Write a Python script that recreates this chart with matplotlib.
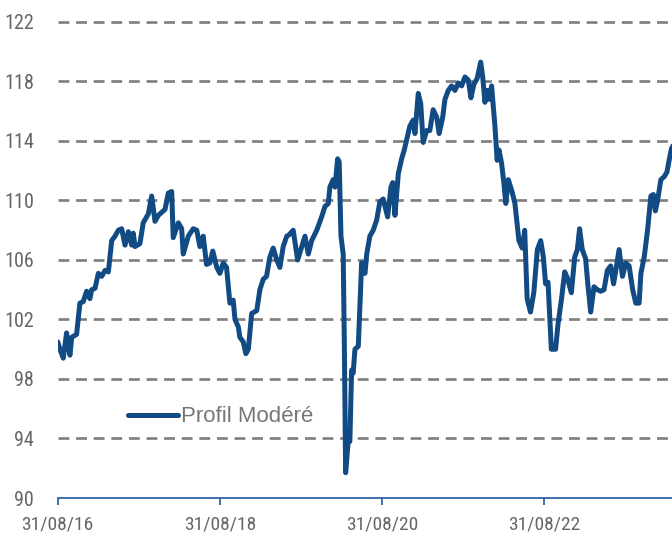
import matplotlib
matplotlib.use("Agg")
import matplotlib.pyplot as plt
import matplotlib.dates as mdates
import pandas as pd

dates = [
    "2016-08-31", "2016-09-10", "2016-09-25", "2016-10-10", "2016-10-25", "2016-11-02",
    "2016-11-24", "2016-12-09", "2016-12-24", "2017-01-08", "2017-01-23", "2017-01-31",
    "2017-02-15", "2017-03-02", "2017-03-17", "2017-04-01", "2017-04-16", "2017-04-23",
    "2017-05-01", "2017-05-16", "2017-05-31", "2017-06-15", "2017-06-30", "2017-07-15",
    "2017-07-30", "2017-08-06", "2017-08-14", "2017-09-05", "2017-09-20", "2017-10-13",
    "2017-10-28", "2017-11-12", "2017-11-27", "2017-12-27", "2018-01-11", "2018-01-26",
    "2018-02-02", "2018-02-25", "2018-03-12", "2018-03-19", "2018-04-11", "2018-05-03",
    "2018-05-19", "2018-06-02", "2018-06-17", "2018-07-02", "2018-07-17", "2018-07-30",
    "2018-08-17", "2018-08-31", "2018-09-15", "2018-09-30", "2018-10-15", "2018-10-30",
    "2018-11-07", "2018-11-22", "2018-11-29", "2018-12-14", "2018-12-26", "2019-01-06",
    "2019-01-21", "2019-02-13", "2019-02-27", "2019-03-14", "2019-03-29", "2019-04-13",
    "2019-04-28", "2019-05-14", "2019-05-28", "2019-06-12", "2019-06-28", "2019-07-09",
    "2019-07-27", "2019-08-16", "2019-09-18", "2019-10-03", "2019-10-18", "2019-11-10",
    "2019-12-02", "2019-12-17", "2020-01-01", "2020-01-08", "2020-01-23", "2020-01-31",
    "2020-02-12", "2020-02-19", "2020-02-27", "2020-03-08", "2020-03-13", "2020-03-19",
    "2020-03-31", "2020-04-07", "2020-04-15", "2020-04-22", "2020-04-30", "2020-05-15",
    "2020-05-30", "2020-06-14", "2020-06-22", "2020-07-06", "2020-07-21", "2020-08-06",
    "2020-08-20", "2020-09-04", "2020-09-24", "2020-10-09", "2020-10-17", "2020-10-27",
    "2020-11-11", "2020-11-26", "2020-12-08", "2020-12-19", "2021-01-02", "2021-01-17",
    "2021-01-25", "2021-02-09", "2021-02-20", "2021-03-03", "2021-03-19", "2021-04-02",
    "2021-04-17", "2021-05-03", "2021-05-14", "2021-05-30", "2021-06-09", "2021-06-24",
    "2021-07-09", "2021-07-24", "2021-08-08", "2021-08-23", "2021-09-07", "2021-09-22",
    "2021-10-04", "2021-10-17", "2021-11-01", "2021-11-17", "2021-11-26", "2021-12-06",
    "2021-12-16", "2021-12-25", "2022-01-05", "2022-01-20", "2022-01-30", "2022-02-07",
    "2022-02-19", "2022-03-01", "2022-03-10", "2022-03-21", "2022-04-05", "2022-04-20",
    "2022-05-08", "2022-05-23", "2022-06-03", "2022-06-14", "2022-06-29", "2022-07-14",
    "2022-07-30", "2022-08-14", "2022-08-26", "2022-09-05", "2022-09-16", "2022-10-01",
    "2022-10-20", "2022-10-31", "2022-11-15", "2022-11-30", "2022-12-12", "2022-12-30",
    "2023-01-14", "2023-01-26", "2023-02-05", "2023-02-17", "2023-03-04", "2023-03-14",
    "2023-03-27", "2023-04-11", "2023-04-26", "2023-05-11", "2023-05-26", "2023-06-10",
    "2023-06-25", "2023-07-08", "2023-07-18", "2023-08-02", "2023-08-17", "2023-09-01",
    "2023-09-16", "2023-10-02", "2023-10-16", "2023-10-31", "2023-11-08", "2023-11-23",
    "2023-12-08", "2023-12-23", "2024-01-03", "2024-01-12", "2024-01-22", "2024-02-06",
    "2024-02-21", "2024-03-04", "2024-03-14", "2024-03-25", "2024-04-05",
]

profil_modere = [
    100.5, 100.0, 99.4, 101.1, 99.6, 100.8,
    101.0, 103.1, 103.2, 103.9, 103.4, 104.0,
    104.1, 105.1, 104.9, 105.3, 105.2, 106.2,
    107.3, 107.6, 108.0, 108.1, 107.0, 107.9,
    107.0, 107.8, 106.9, 107.1, 108.5, 109.1,
    110.3, 108.6, 109.0, 109.4, 110.5, 110.6,
    107.5, 108.5, 108.1, 106.4, 107.6, 108.1,
    108.0, 106.9, 107.6, 105.7, 105.8, 106.6,
    105.5, 105.1, 105.8, 105.5, 103.1, 103.3,
    102.0, 101.5, 100.8, 100.5, 99.7, 100.0,
    102.4, 102.6, 104.0, 104.7, 104.9, 106.2,
    106.8, 106.0, 105.5, 106.9, 107.6, 107.7,
    108.0, 106.0, 107.6, 106.4, 107.3, 108.0,
    108.9, 109.6, 109.8, 110.9, 111.4, 110.9,
    112.8, 112.6, 107.6, 106.4, 100.6, 91.7,
    93.9, 93.8, 98.6, 98.4, 100.0, 100.2,
    105.8, 105.1, 106.4, 107.6, 108.0, 108.7,
    109.9, 110.1, 108.9, 110.9, 111.2, 109.0,
    111.8, 112.8, 113.4, 114.1, 115.0, 115.4,
    114.5, 117.2, 116.5, 113.9, 114.7, 114.7,
    116.1, 115.6, 114.5, 115.6, 116.8, 117.4,
    117.7, 117.4, 117.9, 117.7, 118.3, 118.1,
    116.9, 117.8, 118.2, 119.3, 118.3, 116.6,
    117.4, 116.8, 117.7, 115.0, 112.7, 113.4,
    112.5, 111.2, 109.8, 111.4, 110.7, 109.8,
    107.3, 106.8, 108.0, 103.4, 102.5, 103.8,
    106.7, 107.3, 106.2, 104.4, 104.5, 100.0,
    100.0, 101.7, 103.3, 105.2, 104.8, 103.8,
    106.2, 106.7, 108.1, 106.7, 106.1, 104.4,
    102.5, 104.2, 104.0, 103.9, 104.0, 105.3,
    105.6, 104.4, 105.3, 106.7, 104.9, 105.8,
    105.6, 104.0, 103.1, 103.1, 105.1, 106.2,
    108.0, 110.3, 110.4, 109.3, 110.0, 111.4,
    111.6, 111.9, 112.7, 113.5, 113.8,
]

series_label = "Profil Modéré"
y_ticks = [90, 94, 98, 102, 106, 110, 114, 118, 122]
x_tick_dates = ["2016-08-31", "2018-08-31", "2020-08-31", "2022-08-31"]
x_range = ["2016-08-31", "2024-03-27"]

line_color = "#124a84"
axis_color = "#2f64a3"
grid_color = "#808080"
label_color = "#666666"

tick_font = ["Roboto Condensed", "Liberation Sans Narrow", "Arial Narrow", "Roboto", "DejaVu Sans"]

fig = plt.figure(figsize=(6.72, 5.39), dpi=100)
ax = fig.add_axes([57.7 / 672, 41 / 539, 1 - 57.7 / 672, (539 - 17.5) / 539 - 41 / 539])

x = pd.to_datetime(dates)
ax.plot(x, profil_modere, color=line_color, lw=3.6, solid_joinstyle="round",
        solid_capstyle="round", label=series_label, zorder=3)

ax.set_ylim(90, 122.3)
ax.set_xlim(pd.to_datetime(x_range[0]), pd.to_datetime(x_range[1]))

ax.set_yticks(y_ticks)
ax.set_yticklabels([str(v) for v in y_ticks])
ax.set_xticks(pd.to_datetime(x_tick_dates))
ax.xaxis.set_major_formatter(mdates.DateFormatter("%d/%m/%y"))

for v in y_ticks[1:]:
    ax.axhline(v, color=grid_color, lw=1.95, ls=(0, (4.0, 2.5)), zorder=1, clip_on=False)

for s in ["top", "right", "left"]:
    ax.spines[s].set_visible(False)
ax.spines["bottom"].set_color(axis_color)
ax.spines["bottom"].set_linewidth(1.3)

ax.tick_params(axis="y", length=0, pad=17, labelcolor=label_color, labelsize=14.5)
ax.tick_params(axis="x", length=5, width=1.3, color=axis_color, direction="out",
               pad=7.5, labelcolor=label_color, labelsize=14)
for lab in ax.get_yticklabels() + ax.get_xticklabels():
    lab.set_family(tick_font)

leg = ax.legend(loc="center left", bbox_to_anchor=(0.1144, 0.1686), frameon=False,
                borderpad=0, borderaxespad=0, handlelength=2.25, handletextpad=0.15,
                prop={"family": ["Liberation Sans", "DejaVu Sans"], "size": 16})
for t in leg.get_texts():
    t.set_color("#777777")

fig.savefig("out.png", dpi=100)
